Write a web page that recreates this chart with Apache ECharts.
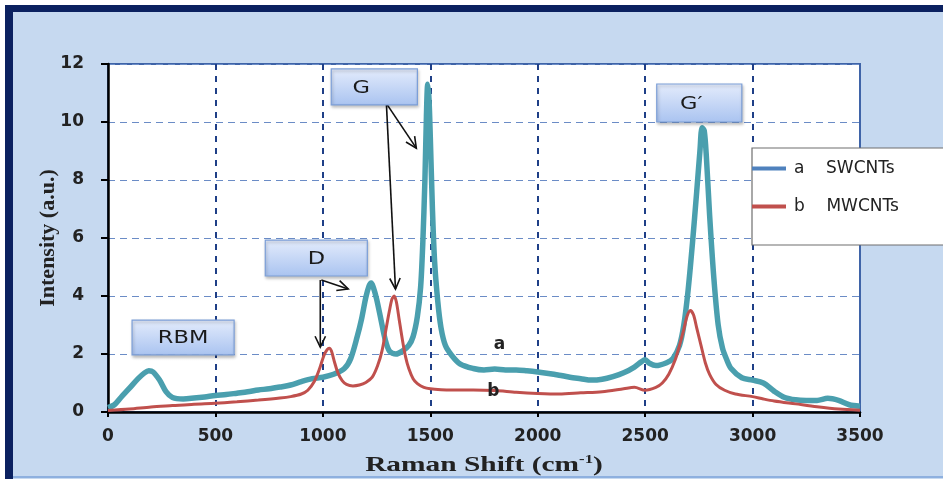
<!DOCTYPE html>
<html><head><meta charset="utf-8">
<script src="https://cdn.jsdelivr.net/npm/echarts@6/dist/echarts.min.js"></script>
<style>html,body{margin:0;padding:0;background:#fff}#c{width:943px;height:479px}</style>
</head><body><div id="c"></div>
<script>
// ---- data ----
const swX = [0,30,60,100,140,170,190,210,240,270,300,350,400,450,500,550,600,650,700,750,800,850,900,950,1000,1050,1100,1130,1160,1180,1200,1215,1225,1235,1250,1270,1290,1310,1340,1370,1400,1420,1440,1455,1465,1475,1482,1488,1494,1500,1510,1520,1535,1550,1570,1600,1640,1700,1750,1800,1850,1900,1950,2000,2050,2100,2150,2200,2250,2300,2350,2400,2450,2480,2500,2520,2550,2600,2630,2660,2680,2700,2720,2740,2755,2765,2775,2785,2800,2820,2840,2860,2880,2900,2950,3000,3050,3100,3150,3200,3250,3300,3350,3400,3450,3500];
const swY = [0.15,0.25,0.5,0.82,1.15,1.35,1.42,1.38,1.1,0.7,0.5,0.45,0.48,0.52,0.57,0.6,0.65,0.7,0.76,0.8,0.86,0.93,1.05,1.15,1.2,1.3,1.5,1.85,2.6,3.2,3.95,4.35,4.45,4.3,3.9,3.2,2.5,2.1,2.0,2.1,2.3,2.6,3.3,4.3,5.8,8.0,10.2,11.3,10.8,9.5,7.0,5.2,3.8,2.9,2.3,1.95,1.65,1.5,1.45,1.48,1.45,1.45,1.42,1.38,1.33,1.27,1.2,1.15,1.1,1.13,1.22,1.35,1.55,1.72,1.8,1.68,1.6,1.7,1.85,2.3,3.0,4.2,5.8,7.6,9.0,9.8,9.7,8.8,6.8,4.6,3.0,2.2,1.8,1.5,1.18,1.1,1.0,0.72,0.5,0.42,0.4,0.4,0.47,0.4,0.25,0.2];
const mwX = [0,100,200,300,400,500,600,700,800,850,900,930,960,985,1005,1020,1030,1040,1055,1070,1090,1110,1140,1170,1200,1230,1255,1275,1295,1310,1322,1332,1342,1355,1370,1385,1400,1420,1440,1470,1500,1550,1600,1700,1800,1900,2000,2100,2200,2300,2400,2450,2500,2550,2580,2610,2640,2660,2680,2695,2710,2725,2740,2760,2780,2800,2830,2870,2920,3000,3050,3100,3200,3300,3400,3500];
const mwY = [0.05,0.1,0.17,0.22,0.27,0.3,0.35,0.41,0.48,0.53,0.62,0.75,1.05,1.5,1.95,2.15,2.2,2.1,1.7,1.35,1.08,0.95,0.9,0.93,1.02,1.2,1.6,2.1,2.9,3.5,3.9,4.0,3.8,3.2,2.5,1.9,1.5,1.15,0.98,0.85,0.8,0.77,0.76,0.76,0.74,0.68,0.64,0.62,0.66,0.7,0.8,0.85,0.75,0.85,1.0,1.3,1.8,2.3,2.85,3.3,3.5,3.35,2.9,2.3,1.7,1.3,0.95,0.75,0.62,0.53,0.45,0.38,0.28,0.18,0.1,0.06];
const seriesNames = ['a    SWCNTs', 'b    MWCNTs'];
const curveLetters = ['a', 'b'];
const peakLabels = ['RBM', 'D', 'G', 'G\u2032'];
const xTitle = 'Raman Shift (cm';
const xTitleSup = '-1';
const yTitle = 'Intensity (a.u.)';

// ---- annotation anchors in data space ----
const boxes = [ // [x0,y0,x1,y1]
  [112, 3.17, 587, 1.97],
  [732, 5.93, 1207, 4.69],
  [1039, 11.83, 1440, 10.59],
  [2554, 11.31, 2950, 10.0]
];
const textOffsets = [0, 0, -13, -8];
const arrows = [ // [from, to]
  [[988, 4.55], [988, 2.24]],
  [[993, 4.55], [1118, 4.24]],
  [[1300, 10.59], [1435, 9.10]],
  [[1296, 10.59], [1338, 4.24]]
];
const letterPos = [[1822, 2.34], [1794, 0.69]];

const zip = (xs, ys) => xs.map((x, i) => [x, ys[i]]);

const chart = echarts.init(document.getElementById('c'), null, {renderer: 'canvas'});
const option = {
  backgroundColor: '#c6d9f0',
  animation: false,
  grid: {left: 108, right: 83, top: 64, bottom: 67, show: true, backgroundColor: '#ffffff', borderColor: '#3f64a8', borderWidth: 2},
  xAxis: {
    type: 'value', min: 0, max: 3500, interval: 500,
    axisLine: {onZero: false, lineStyle: {color: '#000', width: 2.5}},
    axisTick: {show: true, length: 5, lineStyle: {color: '#000', width: 2}},
    axisLabel: {color: '#222', fontFamily: 'DejaVu Sans', fontWeight: 'bold', fontSize: 17, margin: 16, formatter: (v) => String(v)},
    splitLine: {show: true, showMinLine: false, showMaxLine: false, lineStyle: {color: '#1f3f87', width: 2, type: [6, 6]}}
  },
  yAxis: {
    type: 'value', min: 0, max: 12, interval: 2,
    name: yTitle, nameLocation: 'middle', nameRotate: 90, nameGap: 49, nameMoveOverlap: false,
    nameTextStyle: {fontFamily: 'Liberation Serif', fontWeight: 'bold', fontSize: 22, color: '#222'},
    axisLine: {onZero: false, lineStyle: {color: '#000', width: 2.5}},
    axisTick: {show: true, length: 7, lineStyle: {color: '#000', width: 2}},
    axisLabel: {color: '#222', fontFamily: 'DejaVu Sans', fontWeight: 'bold', fontSize: 17, margin: 24, formatter: (v) => String(v)},
    splitLine: {show: true, showMinLine: false, showMaxLine: true, lineStyle: {color: '#6b8cc6', width: 1, type: [7, 5]}}
  },
  legend: {
    orient: 'vertical', left: 752, top: 160, padding: 0, itemGap: 21,
    itemWidth: 34, itemHeight: 4, icon: 'rect', z: 6,
    textStyle: {fontFamily: 'DejaVu Sans', fontSize: 17, color: '#222', padding: [0, 0, 0, 3]},
    data: [
      {name: seriesNames[0], itemStyle: {color: '#4f81bd'}},
      {name: seriesNames[1], itemStyle: {color: '#c0504d'}}
    ]
  },
  series: [
    {
      name: seriesNames[0], type: 'line', data: zip(swX, swY), smooth: 0.3,
      showSymbol: false, lineStyle: {color: '#4a9fae', width: 5.5}, itemStyle: {color: '#4a9fae'}, z: 3
    },
    {
      name: seriesNames[1], type: 'line', data: zip(mwX, mwY), smooth: 0.3,
      showSymbol: false,
      lineStyle: {color: '#c0504d', width: 3}, itemStyle: {color: '#c0504d'}, z: 4
    }
  ]
};
chart.setOption(option);

function px(p) { return chart.convertToPixel({gridIndex: 0}, p); }

function arrowEl(a, b) {
  const ang = Math.atan2(b[1] - a[1], b[0] - a[0]);
  const L = 12, w = 0.45;
  const h1 = [b[0] - L * Math.cos(ang - w), b[1] - L * Math.sin(ang - w)];
  const h2 = [b[0] - L * Math.cos(ang + w), b[1] - L * Math.sin(ang + w)];
  return {
    type: 'group', z: 7, children: [
      {type: 'line', shape: {x1: a[0], y1: a[1], x2: b[0], y2: b[1]}, style: {stroke: '#111', lineWidth: 1.6}},
      {type: 'polyline', shape: {points: [h1, b, h2]}, style: {stroke: '#111', lineWidth: 1.6, fill: null}}
    ]
  };
}

const g = [];
// frame strips
g.push({type: 'rect', shape: {x: 0, y: 0, width: 943, height: 5}, style: {fill: '#ffffff'}, z: 1});
g.push({type: 'rect', shape: {x: 0, y: 0, width: 5, height: 479}, style: {fill: '#ffffff'}, z: 1});
g.push({type: 'rect', shape: {x: 5, y: 5, width: 938, height: 7}, style: {fill: '#0b2160'}, z: 1});
g.push({type: 'rect', shape: {x: 5, y: 5, width: 8, height: 474}, style: {fill: '#0b2160'}, z: 1});
g.push({type: 'rect', shape: {x: 13, y: 476, width: 930, height: 2}, style: {fill: '#8eb0df'}, z: 1});
// legend box
g.push({type: 'rect', shape: {x: 752, y: 148, width: 200, height: 97}, style: {fill: '#ffffff', stroke: '#6f6f6f', lineWidth: 1.2}, z: 5});

boxes.forEach((b, i) => {
  const p0 = px([b[0], b[1]]), p1 = px([b[2], b[3]]);
  const w = p1[0] - p0[0], h = p1[1] - p0[1];
  g.push({
    type: 'rect', z: 8,
    shape: {x: p0[0], y: p0[1], width: w, height: h},
    style: {
      fill: new echarts.graphic.LinearGradient(0, 0, 0, 1, [{offset: 0, color: '#e4ecfc'}, {offset: 1, color: '#a9c3f0'}]),
      stroke: '#7c9fd8', lineWidth: 1.2, shadowBlur: 3, shadowColor: 'rgba(0,0,0,0.25)', shadowOffsetX: 1, shadowOffsetY: 2
    }
  });
  g.push({
    type: 'text', z: 9,
    x: p0[0] + w / 2 + textOffsets[i], y: p0[1] + h / 2 + 1,
    scaleX: 1.25,
    style: {text: peakLabels[i], fill: '#1a1a1a', font: '18px "DejaVu Sans"', align: 'center', verticalAlign: 'middle'}
  });
});
arrows.forEach(([a, b]) => g.push(arrowEl(px(a), px(b))));
letterPos.forEach((p, i) => {
  const q = px(p);
  g.push({type: 'text', z: 9, x: q[0], y: q[1], style: {text: curveLetters[i], fill: '#222', font: 'bold 17px "DejaVu Sans"', align: 'center', verticalAlign: 'middle'}});
});
// x axis title (stretched like the reference)
const xc = px([1750, 0]);
g.push({
  type: 'text', z: 9, x: xc[0], y: 465, scaleX: 1.4,
  style: {
    text: '{t|' + xTitle + '}{s|' + xTitleSup + '}{t|)}',
    align: 'center', verticalAlign: 'middle',
    rich: {
      t: {font: 'bold 21px "Liberation Serif"', fill: '#222', verticalAlign: 'bottom'},
      s: {font: 'bold 12px "Liberation Serif"', fill: '#222', verticalAlign: 'top', padding: [0, 0, 10, 0]}
    }
  }
});
chart.setOption({graphic: {elements: g}});
</script>
</body></html>
